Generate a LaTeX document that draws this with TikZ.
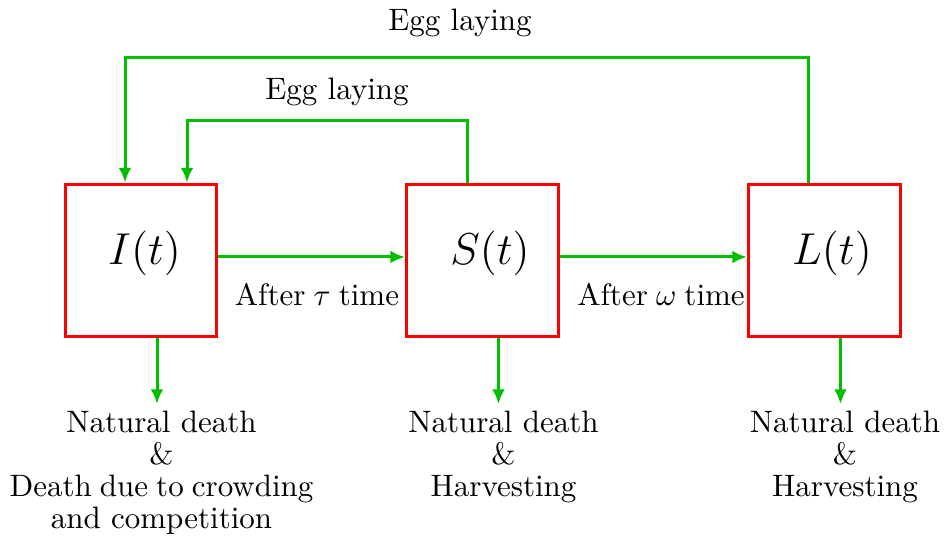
\documentclass[tikz,border=0pt]{standalone}
\usetikzlibrary{arrows.meta,calc}
\definecolor{flowgreen}{RGB}{0,190,0}
\newcommand{\tightsp}{\spaceskip=2.6pt plus 1pt minus 0.5pt\relax}
\begin{document}
\begin{tikzpicture}[x=0.32258pt,y=-0.32258pt,
  stage/.style={draw=red,line width=0.968pt,minimum width=49.03pt,minimum height=49.35pt,inner sep=0pt},
  flow/.style={draw=flowgreen,line width=0.968pt,-{Latex[length=4.7pt,width=4.1pt]}},
  txt/.style={font=\fontsize{10}{10.32}\selectfont,inner sep=0pt},
  mtxt/.style={font=\Large,inner sep=0pt,anchor=base}]
\useasboundingbox (0,0) rectangle (948,538);
\node[stage] (I) at (141,260.5) {};
\node[stage] (S) at (482.5,260.5) {};
\node[stage] (L) at (824.5,260.5) {};
\node[mtxt] (It) at (144.5,265) {$I(t)$};
\node[mtxt] (St) at (490,265) {$S(t)$};
\node[mtxt] (Lt) at (832,265) {$L(t)$};
% horizontal transitions
\draw[flow] ($(I.east)+(0,-3.5)$) -- ($(S.west)+(0,-3.5)$);
\draw[flow] ($(S.east)+(0,-3.5)$) -- ($(L.west)+(0,-3.5)$);
\node[txt,anchor=base] (tau) at (317,306) {\tightsp After $\tau$ time};
\node[txt,anchor=base] (om) at (661,306) {\tightsp After $\omega$ time};
% egg laying loops
\coordinate (top1) at (466,58);
\coordinate (top2) at (330,121);
\draw[flow] ($(L.north)+(-16,0)$) |- (top1) -| ($(I.north)+(-16,0)$);
\draw[flow] ($(S.north)+(-15.5,0)$) |- (top2) -| ($(I.north)+(46,0)$);
\node[txt,anchor=base] (egg1) at (460,31) {Egg laying};
\node[txt,anchor=base] (egg2) at (337,100) {Egg laying};
% deaths
\coordinate (dI) at (157,404);
\coordinate (dS) at (498.5,404);
\coordinate (dL) at (840.5,404);
\draw[flow] ($(I.south)+(16,0)$) -- (dI);
\draw[flow] ($(S.south)+(16,0)$) -- (dS);
\draw[flow] ($(L.south)+(16,0)$) -- (dL);
\node[txt,anchor=north,align=center] (nI) at (161.5,410.5) {Natural death\\\&\\{\tightsp Death due to crowding}\\and competition};
\node[txt,anchor=north,align=center] (nS) at (503.5,410.5) {Natural death\\\&\\Harvesting};
\node[txt,anchor=north,align=center] (nL) at (845,410.5) {Natural death\\\&\\Harvesting};
\end{tikzpicture}
\end{document}
